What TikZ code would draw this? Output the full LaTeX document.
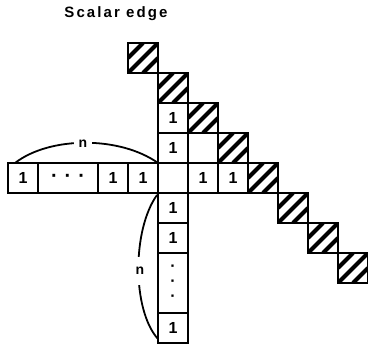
\documentclass[tikz,border=0pt]{standalone}
\usepackage{fontspec}
\setmainfont{Liberation Sans}
\begin{document}
\begin{tikzpicture}[x=1pt,y=-1pt,
  cellbox/.style={draw, line width=2.4pt, minimum width=30pt, minimum height=30pt,
    inner sep=0pt, font=\fontsize{16}{17}\selectfont\bfseries},
  hatchbox/.style={cellbox, path picture={
    \draw[line width=4pt] (path picture bounding box.west) -- (path picture bounding box.north);
    \draw[line width=4pt] (path picture bounding box.south west) -- (path picture bounding box.north east);
    \draw[line width=4pt] (path picture bounding box.south) -- (path picture bounding box.east);}},
  arcline/.style={line width=1.8pt},
  lbl/.style={fill=white, inner sep=5pt, font=\fontsize{14}{15}\selectfont\bfseries}]
\useasboundingbox (0,0) rectangle (368,350);
\node (title) at (116,14) {\fontsize{15}{17}\selectfont\bfseries\addfontfeature{LetterSpace=14}Scalar edge};
% horizontal row (row 0)
\node[cellbox] (h5) at (23,178) {1};
\node[cellbox, minimum width=60pt, font=\fontsize{20}{17}\selectfont\bfseries] (hd) at (68,178) {·\hspace{7pt}·\hspace{7pt}·};
\node[cellbox] (h2) at (113,178) {1};
\node[cellbox] (h1) at (143,178) {1};
\node[cellbox] (c0) at (173,178) {};
\node[cellbox] (r1) at (203,178) {1};
\node[cellbox] (r2) at (233,178) {1};
% vertical column (col 0)
\node[cellbox] (u2) at (173,118) {1};
\node[cellbox] (u1) at (173,148) {1};
\node[cellbox] (v1) at (173,208) {1};
\node[cellbox] (v2) at (173,238) {1};
\node[cellbox, minimum height=60pt, align=center, font=\fontsize{16}{15}\selectfont\bfseries] (vd) at (173,283) {·\\·\\·};
\node[cellbox] (v5) at (173,328) {1};
\node[cellbox] (b1) at (203,148) {};
% diagonal
\node[hatchbox] (d1) at (143,58) {};
\node[hatchbox] (d2) at (173,88) {};
\node[hatchbox] (d3) at (203,118) {};
\node[hatchbox] (d4) at (233,148) {};
\node[hatchbox] (d5) at (263,178) {};
\node[hatchbox] (d6) at (293,208) {};
\node[hatchbox] (d7) at (323,238) {};
\node[hatchbox] (d8) at (353,268) {};
% braces
\coordinate (ha) at (15,163);
\coordinate (hb) at (158,163);
\draw[arcline] (ha) .. controls (50,136) and (120,136) .. (hb);
\node[lbl] (hn) at (83,144) {n};
\coordinate (va) at (157,195);
\coordinate (vb) at (158,339);
\draw[arcline] (va) .. controls (132,230) and (132,310) .. (vb);
\node[lbl, inner ysep=10pt] (vn) at (140,271) {n};
\end{tikzpicture}
\end{document}
